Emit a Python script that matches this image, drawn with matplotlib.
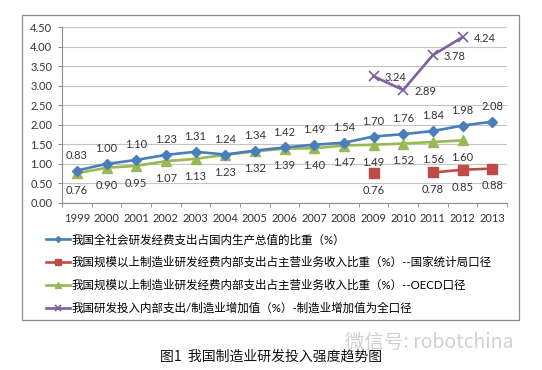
import numpy as np
import matplotlib
matplotlib.use('Agg')
import matplotlib.pyplot as plt
from matplotlib.patches import Rectangle

plt.rcParams['font.family'] = ['Lato', 'Noto Sans CJK SC', 'DejaVu Sans']

years = ['1999', '2000', '2001', '2002', '2003', '2004', '2005', '2006',
         '2007', '2008', '2009', '2010', '2011', '2012', '2013']
gdp_share = [0.83, 1.00, 1.10, 1.23, 1.31, 1.24, 1.34, 1.42, 1.49, 1.54,
             1.70, 1.76, 1.84, 1.98, 2.08]
nbs_share = [np.nan] * 10 + [0.76, np.nan, 0.78, 0.85, 0.88]
oecd_share = [0.76, 0.90, 0.95, 1.07, 1.13, 1.23, 1.32, 1.39, 1.40, 1.47,
              1.49, 1.52, 1.56, 1.60, np.nan]
value_added = [np.nan] * 10 + [3.24, 2.89, 3.78, 4.24, np.nan]

names = ['我国全社会研发经费支出占国内生产总值的比重（%）',
         '我国规模以上制造业研发经费内部支出占主营业务收入比重（%）--国家统计局口径',
         '我国规模以上制造业研发经费内部支出占主营业务收入比重（%）--OECD口径',
         '我国研发投入内部支出/制造业增加值（%）-制造业增加值为全口径']

blue = '#4A7EBB'
red = '#BE4B48'
green = '#98B954'
purple = '#7D60A0'
txt = '#333333'

fig = plt.figure(figsize=(5.42, 3.70), dpi=100)
fig.patches.append(Rectangle((22/542, 1-320/370), 497/542, 305/370,
                             transform=fig.transFigure, fill=False,
                             edgecolor='#8c8c8c', linewidth=0.9))
ax = fig.add_axes([62/542, 1-203/370, 445/542, 176/370])

x = np.arange(len(years))
ax.plot(x, gdp_share, color=blue, lw=1.9, marker='D', ms=5, label=names[0], zorder=4)
ax.plot(x, nbs_share, color=red, lw=1.9, marker='s', ms=6.5, label=names[1], zorder=4)
ax.plot(x, oecd_share, color=green, lw=1.9, marker='^', ms=7, label=names[2], zorder=3)
ax.plot(x, value_added, color=purple, lw=1.9, marker='x', ms=7, mew=1.2,
        label=names[3], zorder=4)

fs = 8
for i, v in enumerate(gdp_share):
    ax.annotate('%.2f' % v, (i, v), xytext=(0, 11), textcoords='offset points',
                ha='center', va='center', fontsize=fs, color=txt)
for i, v in enumerate(oecd_share):
    if not np.isnan(v):
        ax.annotate('%.2f' % v, (i, v), xytext=(0, -12.5), textcoords='offset points',
                    ha='center', va='center', fontsize=fs, color=txt)
for i, v in enumerate(nbs_share):
    if not np.isnan(v):
        ax.annotate('%.2f' % v, (i, v), xytext=(0, -12.5), textcoords='offset points',
                    ha='center', va='center', fontsize=fs, color=txt)
for i, v in enumerate(value_added):
    if not np.isnan(v):
        ax.annotate('%.2f' % v, (i, v), xytext=(8, -1), textcoords='offset points',
                    ha='left', va='center', fontsize=fs, color=txt)

ax.set_xlim(-0.5, len(years) - 0.5)
ax.set_ylim(0, 4.5)
ax.set_yticks(np.arange(0, 4.51, 0.5))
ax.set_yticklabels(['%.2f' % t for t in np.arange(0, 4.51, 0.5)])
ax.set_xticks(x)
ax.set_xticklabels(years)
ax.set_xticks(np.arange(-0.5, len(years), 1), minor=True)
ax.tick_params(axis='x', which='major', length=0, pad=7, labelsize=fs, colors=txt)
ax.tick_params(axis='x', which='minor', length=3, color='#8c8c8c')
ax.tick_params(axis='y', length=3, color='#8c8c8c', pad=4, labelsize=fs, labelcolor=txt)
ax.grid(axis='y', color='#c4c4c4', lw=0.8)
ax.set_axisbelow(True)
for s in ['top', 'right']:
    ax.spines[s].set_visible(False)
for s in ['left', 'bottom']:
    ax.spines[s].set_color('#8c8c8c')
    ax.spines[s].set_linewidth(0.8)

ax.legend(loc='upper left', bbox_to_anchor=(46/542, 1-234/370),
          bbox_transform=fig.transFigure, frameon=False, fontsize=8.3,
          handlelength=2.1, handletextpad=0.15, labelspacing=0.98,
          borderpad=0, borderaxespad=0, markerscale=0.6)

fig.text(0.5, 1-357/370, '图1  我国制造业研发投入强度趋势图', ha='center', va='center',
         fontsize=10, color='#111111', family=['Noto Sans CJK SC'])
fig.text(345/542, 1-342/370, '微信号: robotchina', ha='left', va='center',
         fontsize=14, color='#d0d0d0', family=['Noto Sans CJK SC', 'DejaVu Sans'],
         fontweight='light')

fig.savefig('out.png', dpi=100)
